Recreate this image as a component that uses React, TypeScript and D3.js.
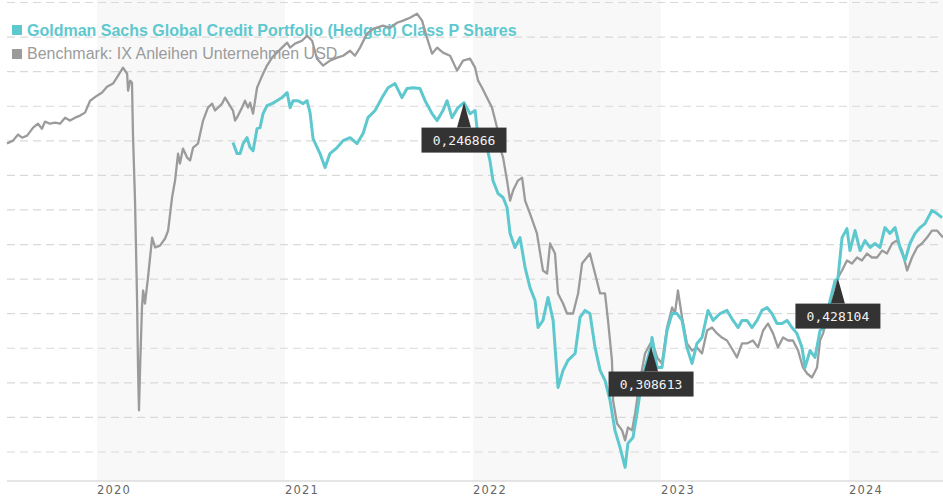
import React from "react";
import * as d3 from "d3";

const W = 943;
const H = 500;

const fundName = "Goldman Sachs Global Credit Portfolio (Hedged) Class P Shares";
const benchName = "Benchmark: IX Anleihen Unternehmen USD";
const yearLabels = [2020, 2021, 2022, 2023, 2024];
const shadedYears = [2020, 2022, 2024];
const gridValues = d3.range(-12, 15, 2);

// [decimal year, performance %]
const benchSeries: [number, number][] = [
  [2019.521, 5.84], [2019.553, 6.01], [2019.58, 6.36], [2019.601, 6.18], [2019.628, 6.3],
  [2019.66, 6.76], [2019.686, 6.99], [2019.707, 6.7], [2019.723, 7.11], [2019.75, 6.99],
  [2019.777, 7.05], [2019.803, 6.99], [2019.83, 7.34], [2019.856, 7.17], [2019.883, 7.34],
  [2019.91, 7.46], [2019.936, 7.63], [2019.963, 8.32], [2020.0, 8.61], [2020.027, 8.79],
  [2020.053, 9.13], [2020.085, 9.31], [2020.112, 9.77], [2020.138, 10.23], [2020.16, 9.88],
  [2020.165, 8.9], [2020.176, 9.48], [2020.186, 9.36], [2020.191, 6.42], [2020.202, 2.54],
  [2020.213, -3.24], [2020.218, -7.11], [2020.223, -9.59], [2020.229, -7.11], [2020.239, -3.64],
  [2020.245, -2.66], [2020.255, -3.41], [2020.271, -1.91], [2020.293, 0.4], [2020.309, -0.17],
  [2020.335, -0.06], [2020.362, 0.35], [2020.378, 0.81], [2020.399, 2.72], [2020.415, 3.7],
  [2020.431, 5.26], [2020.441, 4.68], [2020.457, 5.55], [2020.479, 5.03], [2020.495, 4.86],
  [2020.511, 5.61], [2020.537, 5.84], [2020.564, 7.17], [2020.59, 7.92], [2020.612, 8.15],
  [2020.628, 7.75], [2020.665, 8.15], [2020.681, 8.5], [2020.697, 8.21], [2020.723, 7.75],
  [2020.734, 7.17], [2020.75, 7.46], [2020.771, 7.92], [2020.787, 8.32], [2020.803, 7.92],
  [2020.814, 8.21], [2020.83, 7.57], [2020.851, 9.07], [2020.867, 9.48], [2020.883, 9.88],
  [2020.904, 10.35], [2020.931, 10.81], [2020.957, 11.1], [2020.984, 11.39], [2021.011, 11.68],
  [2021.027, 11.39], [2021.053, 11.62], [2021.09, 11.79], [2021.117, 12.08], [2021.144, 11.79],
  [2021.17, 10.75], [2021.202, 10.35], [2021.239, 10.64], [2021.277, 10.81], [2021.309, 10.92],
  [2021.346, 11.21], [2021.372, 10.92], [2021.399, 11.39], [2021.436, 12.2], [2021.468, 12.48],
  [2021.521, 12.66], [2021.559, 12.54], [2021.596, 12.83], [2021.628, 12.95], [2021.665, 13.12],
  [2021.702, 13.35], [2021.729, 12.95], [2021.755, 11.96], [2021.782, 11.04], [2021.809, 11.39],
  [2021.84, 11.1], [2021.878, 10.92], [2021.915, 10.06], [2021.947, 10.64], [2021.984, 10.75],
  [2022.011, 10.23], [2022.027, 9.48], [2022.048, 9.07], [2022.074, 8.5], [2022.101, 7.92],
  [2022.128, 6.76], [2022.144, 5.61], [2022.16, 5.03], [2022.181, 3.7], [2022.197, 2.54],
  [2022.213, 3.12], [2022.239, 3.7], [2022.261, 3.87], [2022.277, 2.54], [2022.303, 1.79],
  [2022.34, 0.64], [2022.372, -1.5], [2022.394, -1.68], [2022.41, 0.06], [2022.436, -0.52],
  [2022.452, -2.83], [2022.479, -3.41], [2022.5, -3.99], [2022.532, -3.99], [2022.559, -2.83],
  [2022.58, -1.1], [2022.622, -0.52], [2022.649, -1.68], [2022.676, -2.83], [2022.702, -2.83],
  [2022.718, -4.39], [2022.739, -6.7], [2022.745, -9.02], [2022.766, -10.35], [2022.793, -10.75],
  [2022.809, -11.33], [2022.824, -10.58], [2022.846, -10.75], [2022.862, -9.77], [2022.888, -7.86],
  [2022.915, -6.3], [2022.952, -5.55], [2022.979, -6.53], [2023.005, -6.88], [2023.032, -4.8],
  [2023.059, -3.64], [2023.074, -3.99], [2023.09, -2.66], [2023.112, -4.22], [2023.138, -5.72],
  [2023.165, -6.13], [2023.191, -5.95], [2023.218, -6.3], [2023.245, -4.97], [2023.271, -4.8],
  [2023.298, -5.14], [2023.324, -5.38], [2023.351, -5.55], [2023.383, -6.13], [2023.404, -6.53],
  [2023.431, -5.72], [2023.457, -5.72], [2023.489, -5.55], [2023.516, -5.95], [2023.543, -4.97],
  [2023.569, -4.57], [2023.596, -5.14], [2023.622, -5.95], [2023.649, -5.38], [2023.676, -5.55],
  [2023.702, -5.55], [2023.729, -6.13], [2023.755, -7.11], [2023.777, -7.46], [2023.803, -7.69],
  [2023.83, -7.11], [2023.846, -5.55], [2023.862, -5.14], [2023.888, -3.99], [2023.915, -2.66],
  [2023.941, -1.91], [2023.963, -1.5], [2023.989, -0.92], [2024.016, -1.1], [2024.043, -0.75],
  [2024.069, -0.92], [2024.096, -0.52], [2024.122, -0.75], [2024.149, -0.75], [2024.176, -0.35],
  [2024.202, -0.52], [2024.229, 0.06], [2024.255, 0.23], [2024.282, -0.35], [2024.309, -1.5],
  [2024.335, -0.75], [2024.362, -0.17], [2024.388, 0.06], [2024.415, 0.4], [2024.441, 0.81],
  [2024.468, 0.81], [2024.5, 0.4],
];

const fundSeries: [number, number][] = [
  [2020.723, 5.9], [2020.745, 5.26], [2020.761, 5.26], [2020.777, 5.84], [2020.798, 6.18],
  [2020.814, 5.61], [2020.83, 5.43], [2020.851, 6.7], [2020.867, 6.76], [2020.883, 7.57],
  [2020.904, 8.03], [2020.931, 8.15], [2020.957, 8.32], [2020.984, 8.5], [2021.011, 8.79],
  [2021.027, 7.92], [2021.043, 8.32], [2021.069, 8.32], [2021.096, 8.15], [2021.117, 8.32],
  [2021.133, 7.63], [2021.149, 6.13], [2021.186, 5.26], [2021.213, 4.45], [2021.239, 5.26],
  [2021.277, 5.61], [2021.309, 6.01], [2021.346, 6.18], [2021.383, 5.84], [2021.415, 6.42],
  [2021.441, 7.34], [2021.479, 7.75], [2021.516, 8.5], [2021.548, 9.07], [2021.585, 9.31],
  [2021.622, 8.5], [2021.649, 9.02], [2021.681, 9.07], [2021.718, 9.02], [2021.745, 8.32],
  [2021.782, 7.57], [2021.809, 7.17], [2021.84, 7.75], [2021.862, 8.32], [2021.888, 7.34],
  [2021.92, 7.92], [2021.952, 8.21], [2021.984, 7.57], [2022.011, 7.75], [2022.021, 6.76],
  [2022.048, 6.01], [2022.074, 5.61], [2022.09, 4.86], [2022.106, 3.7], [2022.133, 2.95],
  [2022.16, 2.72], [2022.181, 2.14], [2022.197, 0.64], [2022.223, -0.17], [2022.25, 0.4],
  [2022.277, -1.33], [2022.303, -2.49], [2022.33, -3.24], [2022.346, -4.8], [2022.372, -4.39],
  [2022.399, -3.06], [2022.426, -4.39], [2022.452, -8.27], [2022.479, -7.28], [2022.505, -6.7],
  [2022.543, -6.3], [2022.569, -4.22], [2022.596, -3.81], [2022.622, -3.99], [2022.649, -5.95],
  [2022.676, -7.28], [2022.702, -7.86], [2022.729, -9.02], [2022.755, -10.75], [2022.782, -11.73],
  [2022.809, -12.89], [2022.824, -11.5], [2022.851, -11.16], [2022.872, -9.77], [2022.888, -8.61],
  [2022.915, -7.11], [2022.947, -5.9], [2022.952, -5.38], [2022.979, -7.11], [2023.005, -7.11],
  [2023.032, -4.97], [2023.059, -3.99], [2023.085, -3.99], [2023.112, -4.39], [2023.138, -5.95],
  [2023.165, -6.88], [2023.191, -5.72], [2023.218, -5.38], [2023.25, -3.81], [2023.277, -4.39],
  [2023.314, -3.99], [2023.351, -3.81], [2023.383, -4.39], [2023.41, -4.8], [2023.431, -4.39],
  [2023.457, -4.39], [2023.484, -4.8], [2023.511, -4.39], [2023.537, -3.81], [2023.564, -3.64],
  [2023.59, -3.99], [2023.617, -4.57], [2023.644, -4.57], [2023.67, -4.39], [2023.697, -4.8],
  [2023.723, -5.14], [2023.75, -5.95], [2023.766, -7.11], [2023.793, -6.13], [2023.819, -6.53],
  [2023.846, -4.97], [2023.872, -4.8], [2023.899, -3.24], [2023.926, -2.08], [2023.941, -1.97],
  [2023.963, 0.4], [2023.989, 0.92], [2024.005, -0.35], [2024.032, 0.81], [2024.059, -0.35],
  [2024.085, 0.23], [2024.112, -0.17], [2024.138, 0.06], [2024.165, -0.17], [2024.191, 0.98],
  [2024.218, 0.64], [2024.245, 0.98], [2024.271, -0.17], [2024.298, -0.92], [2024.324, 0.06],
  [2024.351, 0.64], [2024.378, 0.98], [2024.404, 1.21], [2024.441, 1.97], [2024.468, 1.79],
  [2024.495, 1.56],
];

const annotationDates = [2021.952, 2022.947, 2023.941];
const annotationValues = [8.21, -5.9, -1.97];
const annotationLabels = ["0,246866", "0,308613", "0,428104"];

const FUND_COLOR = "#5ec8cf";
const BENCH_COLOR = "#9b9b9b";

export default function App() {
  const left = 7;
  const right = 943;
  const bottom = 481;
  const x = d3.scaleLinear().domain([2019.521, 2024.5]).range([left, right]);
  const y = d3.scaleLinear().domain([-12, 14]).range([452, 2.5]);

  const line = d3
    .line<[number, number]>()
    .x((d) => x(d[0]))
    .y((d) => y(d[1]));

  const boxW = 85;
  const boxH = 25;
  const gap = 25;

  return (
    <svg
      width={W}
      height={H}
      style={{ position: "absolute", left: 0, top: 0, background: "#fff" }}
    >
      {shadedYears.map((yr) => {
        const x0 = Math.max(left, x(yr));
        const x1 = Math.min(right, x(yr + 1));
        return (
          <rect key={yr} x={x0} y={0} width={x1 - x0} height={bottom} fill="#f8f8f8" />
        );
      })}
      {gridValues.map((v) => (
        <line
          key={v}
          x1={left}
          x2={right}
          y1={y(v)}
          y2={y(v)}
          stroke="#d9d9d9"
          strokeWidth={1.2}
          strokeDasharray="8,5"
        />
      ))}
      <line x1={left} x2={right} y1={bottom} y2={bottom} stroke="#dcdcdc" strokeWidth={1.5} />
      {yearLabels.map((yr) => (
        <text
          key={yr}
          x={x(yr)}
          y={494}
          fontFamily="DejaVu Sans, Verdana, sans-serif"
          fontSize={11.5}
          letterSpacing={1.2}
          fill="#666"
        >
          {yr}
        </text>
      ))}
      <rect x={12} y={25} width={10} height={10} fill={FUND_COLOR} />
      <text
        x={27}
        y={36}
        fontFamily="Liberation Sans, Arial, sans-serif"
        fontSize={16}
        fontWeight="bold"
        fill={FUND_COLOR}
      >
        {fundName}
      </text>
      <rect x={12} y={49} width={10} height={10} fill={BENCH_COLOR} />
      <text
        x={27}
        y={59}
        fontFamily="Liberation Sans, Arial, sans-serif"
        fontSize={16}
        fill={BENCH_COLOR}
      >
        {benchName}
      </text>
      <path
        d={line(benchSeries) || ""}
        fill="none"
        stroke={BENCH_COLOR}
        strokeWidth={2.3}
        strokeLinejoin="round"
      />
      <path
        d={line(fundSeries) || ""}
        fill="none"
        stroke={FUND_COLOR}
        strokeWidth={3}
        strokeLinejoin="round"
      />
      {annotationDates.map((dt, i) => {
        const px = x(dt);
        const py = y(annotationValues[i]);
        const top = py + gap;
        return (
          <g key={i}>
            <path
              d={`M${px},${py} L${px + 7},${top} L${px - 7},${top} Z`}
              fill="#333"
            />
            <rect x={px - boxW / 2} y={top} width={boxW} height={boxH} fill="#333" />
            <text
              x={px}
              y={top + 17.5}
              textAnchor="middle"
              fontFamily="DejaVu Sans Mono, monospace"
              fontSize={13}
              fill="#f2f2f2"
            >
              {annotationLabels[i]}
            </text>
          </g>
        );
      })}
    </svg>
  );
}
